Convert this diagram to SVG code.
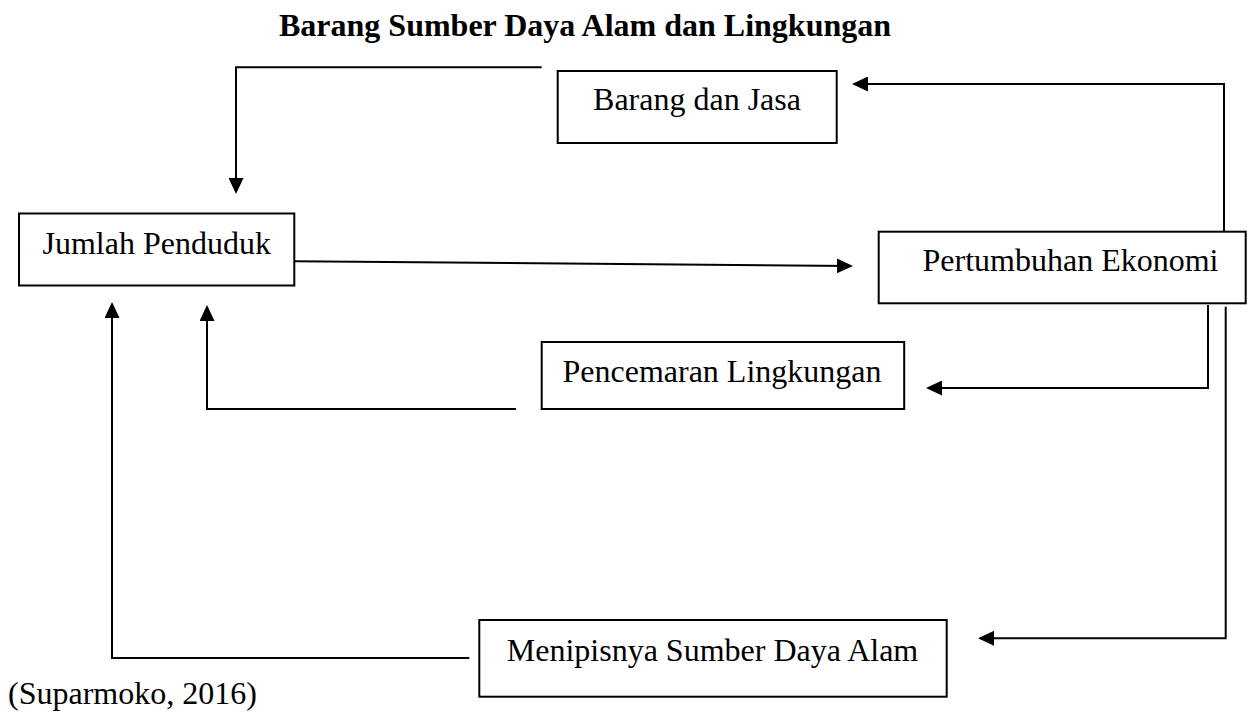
<svg xmlns="http://www.w3.org/2000/svg" width="1253" height="713" viewBox="0 0 1253 713">
<style>
.box{fill:#fff;stroke:#000;stroke-width:2}
.lbl{font-family:"Liberation Serif","Times New Roman",serif;font-size:32px;fill:#000}
.title{font-family:"Liberation Serif","Times New Roman",serif;font-size:32px;font-weight:bold;fill:#000}
.con{fill:none;stroke:#000;stroke-width:2;marker-end:url(#ah)}
.plain{fill:none;stroke:#000;stroke-width:2}
</style>
<defs>
<marker id="ah" markerUnits="userSpaceOnUse" markerWidth="16" markerHeight="15" refX="14" refY="7.5" orient="auto" viewBox="0 0 16 15">
<path d="M0,0 L16,7.5 L0,15 z" fill="#000"/>
</marker>
</defs>
<rect width="1253" height="713" fill="#fff"/>
<text id="title" class="title" x="279" y="36">Barang Sumber Daya Alam dan Lingkungan</text>
<g id="connectors">
<path class="con" d="M541.7,67.3 H236 V192"/>
<path class="con" d="M1224,231.7 V84 H854"/>
<path class="con" d="M294,261.3 L851,266"/>
<path class="con" d="M1208,305 V388 H928"/>
<path class="con" d="M516,409 H207 V307"/>
<path class="con" d="M1225.7,306.7 V638.3 H980"/>
<path class="con" d="M469.3,658 H112 V304"/>
</g>
<g id="node-barang">
<rect class="box" x="557.7" y="71" width="279" height="72"/>
<text class="lbl" x="697" y="110" text-anchor="middle">Barang dan Jasa</text>
</g>
<g id="node-jumlah">
<rect class="box" x="19" y="213.5" width="275.3" height="72"/>
<text class="lbl" x="156.7" y="254.3" text-anchor="middle">Jumlah Penduduk</text>
</g>
<g id="node-pertumbuhan">
<rect class="box" x="878.7" y="231.7" width="367" height="71.6"/>
<text class="lbl" x="1070.5" y="270.7" text-anchor="middle">Pertumbuhan Ekonomi</text>
</g>
<g id="node-pencemaran">
<rect class="box" x="541.7" y="342" width="362.5" height="67"/>
<text class="lbl" x="722" y="381.7" text-anchor="middle">Pencemaran Lingkungan</text>
</g>
<g id="node-menipisnya">
<rect class="box" x="479.3" y="620" width="467.4" height="76.7"/>
<text class="lbl" x="712.5" y="661" text-anchor="middle">Menipisnya Sumber Daya Alam</text>
</g>
<text id="citation" class="lbl" x="8" y="704">(Suparmoko, 2016)</text>
</svg>
